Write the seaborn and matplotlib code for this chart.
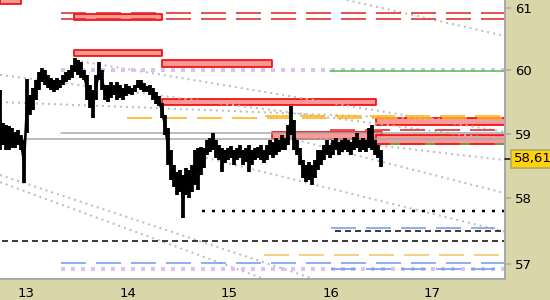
import numpy as np
import pandas as pd
import matplotlib
matplotlib.use("Agg")
import matplotlib.pyplot as plt
import seaborn as sns
from matplotlib.transforms import blended_transform_factory

# ---------------- data ----------------
bar_high = [59.69, 59.17, 59.14, 59.12, 59.09, 59.03, 59.06, 58.98, 58.90, 59.86,
            59.61, 59.72, 59.85, 59.97, 60.04, 60.00, 59.93, 59.88, 59.85, 59.88,
            59.85, 59.93, 59.97, 60.00, 60.08, 60.20, 60.16, 60.13, 60.00, 59.93,
            59.77, 59.69, 59.93, 60.13, 60.00, 59.77, 59.77, 59.82, 59.77, 59.82,
            59.77, 59.72, 59.78, 59.75, 59.72, 59.77, 59.85, 59.85, 59.80, 59.75,
            59.77, 59.72, 59.66, 59.59, 59.48, 59.29, 59.09, 58.75, 58.51, 58.41,
            58.44, 58.36, 58.47, 58.44, 58.51, 58.75, 58.78, 58.79, 58.78, 58.90,
            58.93, 59.01, 58.90, 58.82, 58.78, 58.75, 58.78, 58.81, 58.75, 58.78,
            58.82, 58.75, 58.78, 58.82, 58.75, 58.78, 58.79, 58.82, 58.75, 58.82,
            58.90, 58.87, 58.93, 58.90, 58.98, 58.93, 59.14, 59.44, 59.22, 58.90,
            58.78, 58.59, 58.51, 58.56, 58.51, 58.59, 58.75, 58.75, 58.82, 58.90,
            58.82, 58.90, 58.93, 58.87, 58.90, 58.93, 58.90, 58.87, 58.95, 59.01,
            58.90, 58.93, 58.90, 59.09, 59.14, 58.90, 58.82, 58.75]
bar_low = [58.75, 58.82, 58.75, 58.75, 58.78, 58.78, 58.82, 58.75, 58.24, 59.01,
           59.29, 59.37, 59.53, 59.69, 59.82, 59.77, 59.72, 59.69, 59.66, 59.69,
           59.72, 59.77, 59.82, 59.85, 59.88, 59.97, 59.93, 59.88, 59.85, 59.53,
           59.40, 59.25, 59.53, 59.85, 59.69, 59.53, 59.50, 59.56, 59.61, 59.53,
           59.56, 59.53, 59.59, 59.63, 59.61, 59.66, 59.72, 59.69, 59.66, 59.66,
           59.61, 59.53, 59.47, 59.44, 59.25, 58.98, 58.51, 58.28, 58.17, 58.05,
           58.10, 57.70, 58.05, 58.00, 58.10, 58.21, 58.13, 58.36, 58.47, 58.67,
           58.72, 58.75, 58.62, 58.59, 58.41, 58.55, 58.59, 58.62, 58.51, 58.59,
           58.62, 58.51, 58.56, 58.41, 58.51, 58.59, 58.62, 58.59, 58.55, 58.59,
           58.67, 58.62, 58.67, 58.72, 58.75, 58.75, 58.82, 58.98, 58.75, 58.67,
           58.51, 58.31, 58.25, 58.28, 58.21, 58.31, 58.44, 58.51, 58.59, 58.67,
           58.62, 58.67, 58.75, 58.67, 58.72, 58.75, 58.72, 58.67, 58.75, 58.78,
           58.72, 58.75, 58.72, 58.78, 58.75, 58.67, 58.62, 58.48]
bar_first_day = 12.741
bar_step_days = 0.02956
last_price = 58.61
last_label = "58,61"

day_ticks = [13, 14, 15, 16, 17]
day_labels = ["13", "14", "15", "16", "17"]
price_ticks = [57, 58, 59, 60, 61]
price_labels = ["57", "58", "59", "60", "61"]
x_range = (12.741, 17.716)
y_range = (56.774, 61.13)

# resistance / support zones
zone_start = [12.741, 13.470, 13.470, 14.337, 14.337, 15.421, 16.445, 16.445]
zone_end = [12.948, 14.337, 14.337, 15.421, 16.445, 16.504, 17.72, 17.72]
zone_low = [61.06, 60.80, 60.23, 60.05, 59.45, 58.92, 59.14, 58.84]
zone_high = [61.25, 60.90, 60.32, 60.16, 59.55, 59.03, 59.25, 58.98]

# horizontal levels
red_levels = [60.92, 60.82, 59.06, 58.84]
red_from = [13.342, 13.342, 15.992, 15.992]
orange_levels = [59.25, 59.28]
orange_from = [13.992, 15.352]
gray_levels = [59.01, 58.92]
gray_from = [13.342, 12.741]
lavender_levels = [60.00, 56.92]
lavender_from = [13.342, 13.342]
green_levels = [59.99]
green_from = [15.992]
green_dash_levels = [58.84]
green_dash_from = [16.58]
black_dot_levels = [57.81]
black_dot_from = [14.728]
black_dash_levels = [57.35, 57.50]
black_dash_from = [12.76, 16.041]
black_dash_to = [17.72, 17.70]
blue_levels = [57.55, 57.015, 56.92]
blue_from = [16.002, 13.342, 16.002]
blue_to = [17.618, 17.72, 17.618]
light_orange_levels = [57.14]
light_orange_from = [15.342]
light_orange_to = [17.657]
level_end = 17.72

# trend lines (start day, start price, end day, end price)
trend_d0 = [16.157, 13.480, 12.741, 12.741, 14.711, 15.598, 15.598, 12.741, 12.741]
trend_p0 = [61.13, 60.16, 59.93, 59.50, 58.65, 58.98, 58.93, 58.36, 58.25]
trend_d1 = [17.716, 17.716, 17.716, 17.716, 17.716, 17.716, 17.716, 15.844, 15.352]
trend_p1 = [60.55, 59.03, 58.90, 59.19, 57.49, 58.59, 58.08, 56.77, 56.77]

# ---------------- style ----------------
sns.set_style("white")
plt.rcParams["font.family"] = ["DejaVu Sans"]
khaki = "#D9D6A9"
px = 72 / 100.0  # points per pixel at dpi 100

fig = plt.figure(figsize=(5.5, 3.0), dpi=100, facecolor=khaki)
ax = fig.add_axes([0, 21 / 300, 505 / 550, 279 / 300])
ax.set_facecolor("white")
ax.set_yscale("log")
ax.set_xlim(*x_range)
ax.set_ylim(*y_range)

# zones
for s, e, lo, hi in zip(zone_start, zone_end, zone_low, zone_high):
    ax.fill_between([s, e], [lo, lo], [hi, hi], facecolor="#FF9797",
                    edgecolor="#F00A0A", linewidth=1.7 * px, zorder=1)

# trend lines
for d0, p0, d1, p1 in zip(trend_d0, trend_p0, trend_d1, trend_p1):
    ax.plot([d0, d1], [p0, p1], color="#BDBDBD", lw=2 * px,
            linestyle=(0, (1, 2)), zorder=1.5)

def levels(vals, starts, ends, **kw):
    for v, s, e in zip(vals, starts, ends):
        ax.plot([s, e], [v, v], **kw)

long_dash = lambda lw: (0, (25 / lw, 10 / lw))

levels(gray_levels, gray_from, [level_end] * 2, color="#A8A8A8", lw=1.5 * px, zorder=2)
levels(lavender_levels, lavender_from, [level_end] * 2, color="#DCC2F2",
       lw=4 * px, linestyle=(0, (1, 1.5)), zorder=2)
levels(green_levels, green_from, [level_end], color="#4CC04C", lw=1.5 * px, zorder=2.1)
levels(red_levels, red_from, [level_end] * 4, color="#DD2B2B", lw=1.6 * px,
       linestyle=long_dash(1.6), zorder=2)
levels(green_dash_levels, green_dash_from, [level_end], color="#4CC04C",
       lw=1.6 * px, linestyle=(0, (10 / 1.6, 25 / 1.6)), zorder=2.1)
levels(orange_levels, orange_from, [level_end] * 2, color="#FFB319", lw=1.6 * px,
       linestyle=long_dash(1.6), zorder=2)
levels(light_orange_levels, light_orange_from, light_orange_to, color="#F3C35E",
       lw=1.5 * px, linestyle=long_dash(1.5), zorder=2)
levels(blue_levels, blue_from, blue_to, color="#6A98EC", lw=1.5 * px,
       linestyle=long_dash(1.5), zorder=2.1)
levels(black_dash_levels, black_dash_from, black_dash_to, color="black",
       lw=1.5 * px, linestyle=(0, (6 / 1.5, 4 / 1.5)), zorder=2)
levels(black_dot_levels, black_dot_from, [level_end], color="black",
       lw=2.5 * px, linestyle=(0, (1.2, 2.8)), zorder=2)

# price bars
n = len(bar_high)
times = bar_first_day + bar_step_days * np.arange(n)
df = pd.DataFrame({"t": times, "high": bar_high, "low": bar_low})
df["mid"] = (df["high"] + df["low"]) / 2
ax.vlines(df["t"], df["low"], df["high"], color="black", lw=3.8 * px, zorder=3)
sns.lineplot(data=df, x="t", y="mid", color="black", lw=2.6 * px, ax=ax, zorder=3)
ax.set_xlabel("")
ax.set_ylabel("")

# axes cosmetics
for side in ["left", "top"]:
    ax.spines[side].set_visible(False)
for side in ["right", "bottom"]:
    ax.spines[side].set_color("#A9A9A9")
    ax.spines[side].set_linewidth(2 * px)
ax.yaxis.tick_right()
ax.set_yticks(price_ticks)
ax.set_yticklabels(price_labels)
ax.minorticks_off()
ax.set_xticks(day_ticks)
ax.set_xticklabels(day_labels)
ax.tick_params(axis="y", which="both", direction="out", length=6 * px, width=1.5 * px,
               color="#A9A9A9", labelsize=9.5, pad=3, labelcolor="black")
ax.tick_params(axis="x", direction="out", length=4 * px, width=1.5 * px,
               color="#A9A9A9", labelsize=9.5, pad=3, labelcolor="black")
ax.grid(False)

# last price label
tr = blended_transform_factory(ax.transAxes, ax.transData)
ax.plot([1.0, 1.012], [last_price, last_price], color="black", lw=1.5 * px,
        transform=tr, clip_on=False, zorder=5)
ax.text(1.017, last_price, last_label, transform=tr, ha="left", va="center",
        fontsize=9.5, color="black", zorder=6,
        bbox=dict(boxstyle="square,pad=0.18", fc="#FFD20A", ec="#B0A868", lw=1.2))

fig.savefig("out.png", dpi=100, facecolor=khaki)
